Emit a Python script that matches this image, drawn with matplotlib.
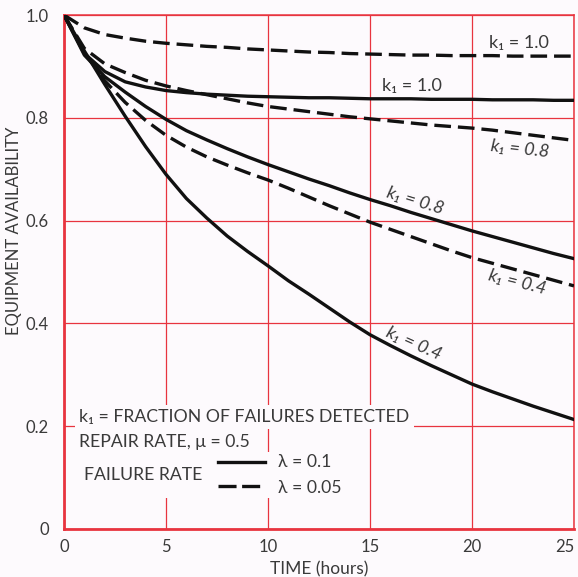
import numpy as np
import matplotlib
matplotlib.use("Agg")
import matplotlib.pyplot as plt

plt.rcParams['font.family'] = ['Lato', 'DejaVu Sans']
plt.rcParams['lines.scale_dashes'] = False

# time axis (hours), values every hour
t = list(range(0, 26))

# failure rate lambda = 0.1 (solid)
a_k10_l01 = [1.0, 0.925, 0.89, 0.87, 0.86, 0.853, 0.849, 0.846, 0.844, 0.842, 0.841, 0.840, 0.839,
             0.839, 0.838, 0.837, 0.837, 0.837, 0.836, 0.836, 0.836, 0.835, 0.835, 0.835, 0.834, 0.834]
a_k08_l01 = [1.0, 0.922, 0.88, 0.85, 0.822, 0.797, 0.775, 0.757, 0.74, 0.724, 0.709, 0.695, 0.681,
             0.668, 0.654, 0.641, 0.629, 0.616, 0.604, 0.592, 0.58, 0.569, 0.558, 0.547, 0.536, 0.526]
a_k04_l01 = [1.0, 0.93, 0.865, 0.803, 0.744, 0.69, 0.643, 0.605, 0.57, 0.54, 0.512, 0.483, 0.457,
             0.43, 0.403, 0.378, 0.357, 0.337, 0.318, 0.3, 0.282, 0.267, 0.253, 0.239, 0.226, 0.213]

# failure rate lambda = 0.05 (dashed)
a_k10_l005 = [1.0, 0.975, 0.962, 0.955, 0.949, 0.945, 0.942, 0.939, 0.937, 0.934, 0.932, 0.930, 0.928,
              0.927, 0.925, 0.924, 0.923, 0.922, 0.922, 0.921, 0.921, 0.921, 0.920, 0.920, 0.920, 0.920]
a_k08_l005 = [1.0, 0.935, 0.905, 0.888, 0.873, 0.862, 0.853, 0.845, 0.837, 0.829, 0.822, 0.817, 0.812,
              0.807, 0.802, 0.798, 0.794, 0.790, 0.786, 0.783, 0.780, 0.776, 0.771, 0.766, 0.761, 0.756]
a_k04_l005 = [1.0, 0.928, 0.872, 0.83, 0.795, 0.766, 0.743, 0.724, 0.708, 0.693, 0.679, 0.663, 0.646,
              0.629, 0.613, 0.597, 0.583, 0.569, 0.555, 0.541, 0.528, 0.517, 0.506, 0.495, 0.484, 0.473]

xticks = [0, 5, 10, 15, 20, 25]
xticklabels = ['0', '5', '10', '15', '20', '25']
yticks = [0, 0.2, 0.4, 0.6, 0.8, 1.0]
yticklabels = ['0', '0.2', '0.4', '0.6', '0.8', '1.0']

red = '#e8343f'
ink = '#111111'
grey = '#3a3a3a'
bg = '#fdfafd'

fig = plt.figure(figsize=(5.78, 5.77), dpi=100, facecolor=bg)
ax = fig.add_axes([0.1107, 0.0832, 0.8823, 0.8908])
ax.set_facecolor(bg)

lw = 2.4
dash = (12, 5)
ax.plot(t, a_k10_l01, color=ink, lw=lw, zorder=3)
ax.plot(t, a_k08_l01, color=ink, lw=lw, zorder=3)
ax.plot(t, a_k04_l01, color=ink, lw=lw, zorder=3)
ax.plot(t, a_k10_l005, color=ink, lw=lw, dashes=dash, zorder=3)
ax.plot(t, a_k08_l005, color=ink, lw=lw, dashes=dash, zorder=3)
ax.plot(t, a_k04_l005, color=ink, lw=lw, dashes=dash, zorder=3)

ax.set_xlim(0, 25)
ax.set_ylim(0, 1.0)
ax.set_xticks(xticks)
ax.set_xticklabels(xticklabels)
ax.set_yticks(yticks)
ax.set_yticklabels(yticklabels)
ax.tick_params(length=0, labelsize=12, labelcolor=grey, pad=7)
ax.tick_params(axis='y', pad=11)
ax.get_xticklabels()[-1].set_horizontalalignment('right')

ax.grid(True, color=red, lw=0.9, zorder=0)
for s in ax.spines.values():
    s.set_color(red)
    s.set_linewidth(1.1)
ax.spines['left'].set_linewidth(2)
ax.spines['bottom'].set_linewidth(2)

ax.set_xlabel('TIME (hours)', fontsize=12.5, color=grey, labelpad=5)
ax.set_ylabel('EQUIPMENT AVAILABILITY', fontsize=12, color=grey)
ax.yaxis.set_label_coords(-0.082, 0.58)

# curve labels
lab = dict(fontsize=13, color=grey, ha='center', va='center')
ax.text(22.3, 0.945, 'k\u2081 = 1.0', **lab)
ax.text(17.06, 0.861, 'k\u2081 = 1.0', **lab)
ax.text(22.35, 0.740, 'k\u2081 = 0.8', rotation=-6, style='italic', **lab)
ax.text(17.2, 0.639, 'k\u2081 = 0.8', rotation=-17, style='italic', **lab)
ax.text(22.2, 0.479, 'k\u2081 = 0.4', rotation=-14, style='italic', **lab)
ax.text(17.16, 0.36, 'k\u2081 = 0.4', rotation=-24, style='italic', **lab)

# key block
box = dict(facecolor=bg, edgecolor='none', pad=3)
fs = 12.7
ax.text(0.03, 0.2175, 'k\u2081 = FRACTION OF FAILURES DETECTED', transform=ax.transAxes,
        fontsize=fs, color=grey, va='center', ha='left', bbox=box, zorder=4)
ax.text(0.03, 0.17, 'REPAIR RATE, \u03bc = 0.5', transform=ax.transAxes,
        fontsize=fs, color=grey, va='center', ha='left', bbox=box, zorder=4)
ax.add_patch(plt.Rectangle((0.03, 0.06), 0.55, 0.09, transform=ax.transAxes,
                           facecolor=bg, edgecolor='none', zorder=4))
ax.text(0.04, 0.105, 'FAILURE RATE', transform=ax.transAxes,
        fontsize=fs, color=grey, va='center', ha='left', zorder=5)
ax.plot([0.302, 0.394], [0.1305, 0.1305], transform=ax.transAxes, color=ink, lw=lw, zorder=5)
ax.plot([0.302, 0.394], [0.084, 0.084], transform=ax.transAxes, color=ink, lw=lw,
        dashes=(13, 4), zorder=5)
ax.text(0.42, 0.13, '\u03bb = 0.1', transform=ax.transAxes,
        fontsize=fs, color=grey, va='center', ha='left', zorder=5)
ax.text(0.42, 0.08, '\u03bb = 0.05', transform=ax.transAxes,
        fontsize=fs, color=grey, va='center', ha='left', zorder=5)

fig.savefig('out.png', dpi=100, facecolor=bg)
